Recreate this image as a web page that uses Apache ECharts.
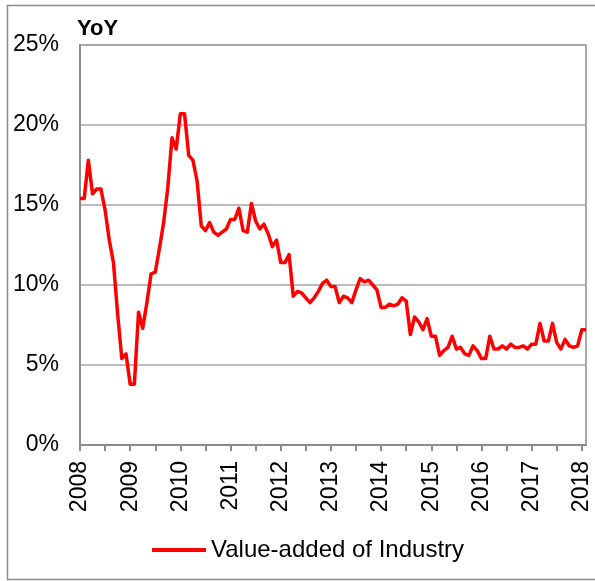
<!DOCTYPE html>
<html>
<head>
<meta charset="utf-8">
<title>Value-added of Industry YoY</title>
<script src="https://cdn.jsdelivr.net/npm/echarts@6/dist/echarts.min.js"></script>
<style>
  html, body { margin: 0; padding: 0; background: #fff; }
  #chart { width: 595px; height: 581px; }
</style>
</head>
<body>
<div id="chart"></div>
<script>
// Monthly year-on-year growth (%), Jan 2008 through Feb 2018.
// January and February are reported jointly, so each Jan/Feb pair repeats.
var yoy2008 = [15.4, 15.4, 17.8, 15.7, 16.0, 16.0, 14.7, 12.8, 11.4, 8.2, 5.4, 5.7];
var yoy2009 = [3.8, 3.8, 8.3, 7.3, 8.9, 10.7, 10.8, 12.3, 13.9, 16.1, 19.2, 18.5];
var yoy2010 = [20.7, 20.7, 18.1, 17.8, 16.5, 13.7, 13.4, 13.9, 13.3, 13.1, 13.3, 13.5];
var yoy2011 = [14.1, 14.1, 14.8, 13.4, 13.3, 15.1, 14.0, 13.5, 13.8, 13.2, 12.4, 12.8];
var yoy2012 = [11.4, 11.4, 11.9, 9.3, 9.6, 9.5, 9.2, 8.9, 9.2, 9.6, 10.1, 10.3];
var yoy2013 = [9.9, 9.9, 8.9, 9.3, 9.2, 8.9, 9.7, 10.4, 10.2, 10.3, 10.0, 9.7];
var yoy2014 = [8.6, 8.6, 8.8, 8.7, 8.8, 9.2, 9.0, 6.9, 8.0, 7.7, 7.2, 7.9];
var yoy2015 = [6.8, 6.8, 5.6, 5.9, 6.1, 6.8, 6.0, 6.1, 5.7, 5.6, 6.2, 5.9];
var yoy2016 = [5.4, 5.4, 6.8, 6.0, 6.0, 6.2, 6.0, 6.3, 6.1, 6.1, 6.2, 6.0];
var yoy2017 = [6.3, 6.3, 7.6, 6.5, 6.5, 7.6, 6.4, 6.0, 6.6, 6.2, 6.1, 6.2];
var yoy2018 = [7.2, 7.2];

var yearLabels = ['2008', '2009', '2010', '2011', '2012', '2013', '2014', '2015', '2016', '2017', '2018'];
var percentLabels = ['0%', '5%', '10%', '15%', '20%', '25%'];
var seriesName = 'Value-added of Industry';

var yoy = [].concat(yoy2008, yoy2009, yoy2010, yoy2011, yoy2012, yoy2013,
                    yoy2014, yoy2015, yoy2016, yoy2017, yoy2018);

// x is the month index counted from January 2008
var points = yoy.map(function (v, i) { return [i, v]; });
var lastMonth = yoy.length - 1;

var halfYearTicks = [];
for (var t = 0; t <= 120; t += 6) halfYearTicks.push(t);
var yearTicks = yearLabels.map(function (_, k) { return k * 12; });

var font = '"Liberation Sans", Arial, sans-serif';
var axisGrey = '#8c8c8c';

var chart = echarts.init(document.getElementById('chart'), null, { renderer: 'canvas' });
chart.setOption({
  backgroundColor: '#ffffff',
  animation: false,
  title: {
    text: 'YoY',
    left: 77,
    top: 18,
    padding: 0,
    textStyle: { fontFamily: font, fontSize: 22, fontWeight: 'bold', color: '#000' }
  },
  legend: {
    data: [seriesName],
    left: 152,
    top: 538,
    padding: 0,
    icon: 'rect',
    itemWidth: 54,
    itemHeight: 4,
    textStyle: { fontFamily: font, fontSize: 24, color: '#000' }
  },
  grid: {
    left: 80, right: 9, top: 45, bottom: 136,
    show: true,
    borderColor: axisGrey,
    borderWidth: 1.5,
    backgroundColor: 'transparent'
  },
  xAxis: {
    type: 'value',
    min: 0,
    max: lastMonth,
    axisLine: { show: true, lineStyle: { color: axisGrey, width: 2 } },
    axisTick: {
      show: true, inside: false, length: 6,
      customValues: halfYearTicks,
      lineStyle: { color: axisGrey, width: 2 }
    },
    axisLabel: {
      customValues: yearTicks,
      rotate: 90,
      margin: 16,
      fontFamily: font,
      fontSize: 23,
      color: '#000',
      formatter: function (v) { return yearLabels[Math.round(v / 12)]; }
    },
    splitLine: { show: false }
  },
  yAxis: {
    type: 'value',
    min: 0,
    max: 25,
    interval: 5,
    axisLine: { show: true, lineStyle: { color: axisGrey, width: 2 } },
    axisTick: { show: false },
    axisLabel: {
      margin: 21,
      fontFamily: font,
      fontSize: 23,
      color: '#000',
      formatter: function (v) { return percentLabels[Math.round(v / 5)]; }
    },
    splitLine: { show: true, lineStyle: { color: '#a6a6a6', width: 1.5 } }
  },
  series: [{
    name: seriesName,
    type: 'line',
    data: points,
    symbol: 'none',
    smooth: false,
    itemStyle: { color: '#ff0000' },
    lineStyle: { color: '#ff0000', width: 3.5, join: 'round' }
  }],
  graphic: [{
    type: 'rect',
    silent: true,
    z: -1,
    shape: { x: 7.5, y: 5.5, width: 600, height: 574 },
    style: { fill: null, stroke: axisGrey, lineWidth: 1.5 }
  }]
});
</script>
</body>
</html>
